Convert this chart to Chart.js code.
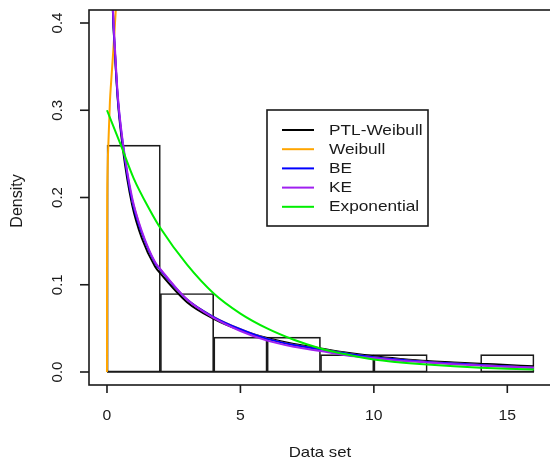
<!DOCTYPE html>
<html>
<head>
<meta charset="utf-8">
<script src="https://cdn.jsdelivr.net/npm/chart.js@4.4.1/dist/chart.umd.min.js"></script>
<style>
  html, body { margin: 0; padding: 0; background: #fff; }
</style>
</head>
<body>
<canvas id="densityChart" width="550" height="464"></canvas>
<script>
// histogram of the data set
const binCenters = [1, 3, 5, 7, 9, 11, 13, 15];
const binHeights = [0.26, 0.09, 0.04, 0.04, 0.02, 0.02, 0, 0.02];
const binWidth = 2;

// axis ticks
const xTicks = [0, 5, 10, 15];
const yTicks = [0, 0.1, 0.2, 0.3, 0.4];

// fitted densities
const curveX     = [0.1, 0.15, 0.22, 0.3, 0.41, 0.6, 0.94, 1.31, 1.8, 2, 3, 4, 5, 6, 7, 8, 9, 10, 11, 12, 13, 14, 15, 16];
const ptlWeibull = [0.62, 0.51, 0.415, 0.365, 0.31, 0.255, 0.192, 0.153, 0.121, 0.113, 0.08, 0.061, 0.048, 0.039, 0.032, 0.027, 0.022, 0.018, 0.015, 0.0125, 0.011, 0.0095, 0.008, 0.0065];
const beValues   = [0.6, 0.5, 0.415, 0.365, 0.312, 0.26, 0.197, 0.159, 0.125, 0.117, 0.083, 0.063, 0.049, 0.038, 0.031, 0.026, 0.021, 0.017, 0.014, 0.0115, 0.0098, 0.008, 0.0065, 0.005];
const keValues   = [0.6, 0.5, 0.42, 0.37, 0.315, 0.262, 0.2, 0.161, 0.126, 0.118, 0.083, 0.062, 0.047, 0.036, 0.029, 0.024, 0.019, 0.016, 0.013, 0.011, 0.009, 0.0075, 0.006, 0.005];

const weibullRiseX = [0, 0.002, 0.008, 0.025, 0.05, 0.11, 0.15, 0.24, 0.33, 0.42];
const weibullRiseY = [0, 0.14, 0.2, 0.235, 0.26, 0.31, 0.33, 0.37, 0.415, 0.46];
const weibullTailX = [0.94, 1.31, 1.8, 2, 3, 4, 5, 6, 7, 8, 9, 10, 11, 12, 13, 14, 15, 16];
const weibullTailY = [0.197, 0.159, 0.125, 0.117, 0.083, 0.063, 0.049, 0.038, 0.031, 0.026, 0.021, 0.017, 0.014, 0.0115, 0.0098, 0.008, 0.0065, 0.005];

const expX      = [0, 0.52, 1, 1.6, 2, 3, 4, 5, 6, 7, 8, 9, 10, 11, 12, 13, 14, 15, 16];
const expValues = [0.3, 0.26, 0.222, 0.186, 0.165, 0.123, 0.09, 0.067, 0.05, 0.037, 0.027, 0.02, 0.0142, 0.011, 0.0085, 0.0065, 0.005, 0.0038, 0.003];

const seriesNames  = ['PTL-Weibull', 'Weibull', 'BE', 'KE', 'Exponential'];
const seriesColors = ['#000000', '#FFA500', '#0000FF', '#A020F0', '#00EE00'];

const FONT = "'Liberation Sans', Arial, sans-serif";
const INK = '#1a1a1a';

function points(xs, ys) {
    return xs.map((x, i) => ({ x: x, y: ys[i] }));
}

function curve(label, color, data, order) {
    return {
        label: label,
        data: data,
        showLine: true,
        borderColor: color,
        backgroundColor: color,
        borderWidth: 2,
        pointRadius: 0,
        cubicInterpolationMode: 'monotone',
        spanGaps: false,
        fill: false,
        order: order
    };
}

// text drawn a little wider than the font, like the source picture
function wideText(ctx, text, x, y, stretch) {
    ctx.save();
    ctx.translate(x, y);
    ctx.scale(stretch, 1);
    ctx.fillText(text, 0, 0);
    ctx.restore();
}

// orange rises out of the plot, its tail hides under the other fits
const weibullData = points(weibullRiseX, weibullRiseY)
    .concat([{ x: 0.5, y: null }])
    .concat(points(weibullTailX, weibullTailY));

const frame = {
    id: 'frame',
    beforeDatasetsDraw(chart) {
        const { ctx, scales: { x, y } } = chart;
        const y0 = y.getPixelForValue(0);
        ctx.save();
        ctx.strokeStyle = INK;
        ctx.lineWidth = 1.5;
        ctx.beginPath();
        ctx.moveTo(x.getPixelForValue(binCenters[0] - binWidth / 2), y0);
        ctx.lineTo(x.getPixelForValue(binCenters[binCenters.length - 1] + binWidth / 2), y0);
        ctx.stroke();
        ctx.restore();
    },
    afterDraw(chart) {
        const { ctx, chartArea: a, scales: { x, y } } = chart;
        ctx.save();
        ctx.strokeStyle = INK;
        ctx.lineWidth = 1.6;
        ctx.strokeRect(a.left, a.top, a.right - a.left + 3, a.bottom - a.top);

        ctx.fillStyle = INK;
        ctx.font = '15px ' + FONT;
        ctx.textAlign = 'center';
        ctx.textBaseline = 'middle';

        xTicks.forEach(v => {
            const px = x.getPixelForValue(v);
            ctx.beginPath();
            ctx.moveTo(px, a.bottom);
            ctx.lineTo(px, a.bottom + 8);
            ctx.stroke();
            wideText(ctx, String(v), px, 416, 1.05);
        });

        yTicks.forEach(v => {
            const py = y.getPixelForValue(v);
            ctx.beginPath();
            ctx.moveTo(a.left, py);
            ctx.lineTo(a.left - 9, py);
            ctx.stroke();
            ctx.save();
            ctx.translate(58, py);
            ctx.rotate(-Math.PI / 2);
            ctx.fillText(v.toFixed(1), 0, 0);
            ctx.restore();
        });

        ctx.font = '15px ' + FONT;
        wideText(ctx, 'Data set', 320, 453, 1.12);
        ctx.save();
        ctx.translate(18, 201);
        ctx.rotate(-Math.PI / 2);
        ctx.font = '16px ' + FONT;
        ctx.fillText('Density', 0, 0);
        ctx.restore();

        // legend
        ctx.lineWidth = 1.6;
        ctx.strokeRect(267, 110, 161, 116);
        ctx.font = '15px ' + FONT;
        ctx.textAlign = 'left';
        seriesNames.forEach((name, i) => {
            const ry = 130 + i * 19.2;
            ctx.strokeStyle = seriesColors[i];
            ctx.lineWidth = 2;
            ctx.beginPath();
            ctx.moveTo(282, ry);
            ctx.lineTo(314, ry);
            ctx.stroke();
            wideText(ctx, name, 329, ry + 0.5, 1.15);
        });
        ctx.restore();
    }
};

new Chart(document.getElementById('densityChart'), {
    type: 'scatter',
    data: {
        datasets: [
            {
                type: 'bar',
                label: 'Data set',
                data: points(binCenters, binHeights),
                backgroundColor: 'rgba(0,0,0,0)',
                borderColor: INK,
                borderWidth: 1,
                borderSkipped: false,
                barPercentage: 1,
                categoryPercentage: 1,
                order: 6
            },
            curve(seriesNames[0], seriesColors[0], points(curveX, ptlWeibull), 5),
            curve(seriesNames[1], seriesColors[1], weibullData, 4),
            curve(seriesNames[2], seriesColors[2], points(curveX, beValues), 3),
            curve(seriesNames[3], seriesColors[3], points(curveX, keValues), 2),
            curve(seriesNames[4], seriesColors[4], points(expX, expValues), 1)
        ]
    },
    options: {
        responsive: false,
        animation: false,
        devicePixelRatio: 1,
        layout: { padding: { left: 89, top: 10, right: 0, bottom: 79 } },
        plugins: {
            legend: { display: false },
            tooltip: { enabled: false }
        },
        scales: {
            x: { type: 'linear', min: -0.674, max: 16.6, offset: false, display: false },
            y: { type: 'linear', min: -0.0149, max: 0.4149, display: false }
        }
    },
    plugins: [frame]
});
</script>
</body>
</html>
